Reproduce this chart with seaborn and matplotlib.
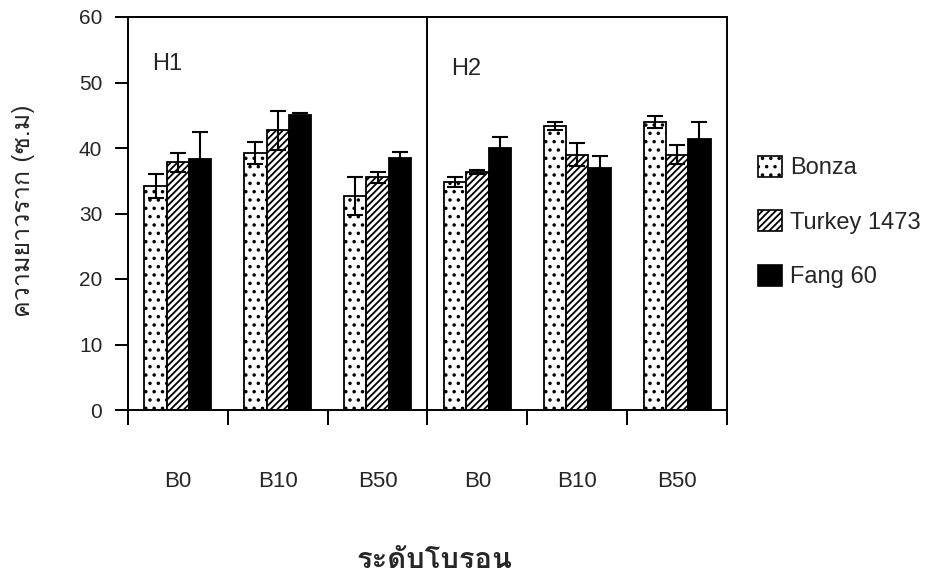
import numpy as np
import pandas as pd
import matplotlib
matplotlib.use("Agg")
import matplotlib.pyplot as plt
import seaborn as sns
from matplotlib import font_manager
from matplotlib.ft2font import FT2Font
from matplotlib.patches import Patch
from matplotlib.ticker import FixedLocator

# ---------------- data ----------------
groups = ["H1-B0", "H1-B10", "H1-B50", "H2-B0", "H2-B10", "H2-B50"]
tick_labels = ["B0", "B10", "B50", "B0", "B10", "B50"]
varieties = ["Bonza", "Turkey 1473", "Fang 60"]
bonza = [34.2, 39.2, 32.7, 34.8, 43.4, 44.0]
bonza_err = [1.8, 1.7, 2.9, 0.8, 0.6, 0.9]
turkey = [37.8, 42.7, 35.5, 36.3, 39.0, 39.0]
turkey_err = [1.5, 3.0, 0.8, 0.3, 1.7, 1.4]
fang = [38.3, 45.0, 38.4, 40.0, 37.0, 41.4]
fang_err = [4.2, 0.3, 1.0, 1.7, 1.8, 2.5]
panel_labels = ["H1", "H2"]
y_ticks = [0, 10, 20, 30, 40, 50, 60]
ylabel = "ความยาวราก (ซ.ม)"
xlabel = "ระดับโบรอน"

# ---------------- fonts ----------------
def thai_families():
    fams = []
    for f in font_manager.fontManager.ttflist:
        try:
            cm = FT2Font(f.fname).get_charmap()
        except Exception:
            continue
        if 0x0E23 in cm and 0x0E1A in cm and f.name not in fams:
            fams.append(f.name)
    return fams

thai = thai_families()
latin = "Liberation Sans"
thai_list = thai[:1] + [latin, "DejaVu Sans"]

sns.set_theme(style="white")
plt.rcParams["font.family"] = [latin, "DejaVu Sans"]
plt.rcParams["hatch.linewidth"] = 1.3
plt.rcParams["hatch.color"] = "black"

df = pd.DataFrame({
    "group": groups * 3,
    "variety": [varieties[0]] * 6 + [varieties[1]] * 6 + [varieties[2]] * 6,
    "value": bonza + turkey + fang,
    "err": bonza_err + turkey_err + fang_err,
})

fig = plt.figure(figsize=(9.29, 5.74), dpi=100)
ax = fig.add_axes([128 / 929, 1 - 410 / 574, (727 - 128) / 929, (410 - 17) / 574])

fills = ["white", "white", "black"]
hatches = ["..", "/////", None]
sns.barplot(data=df, x="group", y="value", hue="variety", order=groups,
            hue_order=varieties, width=0.67, errorbar=None,
            palette=fills, edgecolor="black", linewidth=1.3, ax=ax,
            legend=False, saturation=1)

errs = [bonza_err, turkey_err, fang_err]
for cont, h, e in zip(ax.containers, hatches, errs):
    xs, ys = [], []
    for bar in cont:
        if h:
            bar.set_hatch(h)
        bar.set_edgecolor("black")
        xs.append(bar.get_x() + bar.get_width() / 2)
        ys.append(bar.get_height())
    ax.errorbar(xs, ys, yerr=e, fmt="none", ecolor="black",
                elinewidth=1.5, capsize=6, capthick=1.5, zorder=5)

ax.set_ylim(0, 60)
ax.set_xlim(-0.5, 5.5)
ax.set_yticks(y_ticks)
ax.set_yticklabels([str(t) for t in y_ticks], fontsize=15)
ax.set_xticks(range(6))
ax.set_xticklabels(tick_labels, fontsize=16)
ax.xaxis.set_minor_locator(FixedLocator([-0.5, 0.5, 1.5, 2.5, 3.5, 4.5, 5.5]))
ax.tick_params(axis="x", which="major", length=0, pad=44)
ax.tick_params(axis="x", which="minor", length=11, width=1.4, color="black", direction="out", bottom=True)
ax.tick_params(axis="y", which="major", length=9.5, width=1.4, color="black", direction="out", left=True, pad=9)

ax.axvline(2.5, color="black", linewidth=1.4)
for sp in ax.spines.values():
    sp.set_visible(True)
    sp.set_color("black")
    sp.set_linewidth(1.4)

ax.text(-0.26, 52.9, panel_labels[0], fontsize=17, ha="left", va="center")
ax.text(2.74, 52.0, panel_labels[1], fontsize=17, ha="left", va="center")

ax.set_ylabel("")
ax.set_xlabel("")
fig.text(24 / 929, 1 - 211 / 574, ylabel, fontsize=18, rotation=90,
         family=thai_list, ha="center", va="center")
fig.text(435 / 929, 1 - 560 / 574, xlabel, fontsize=21, fontweight="bold",
         family=thai_list, ha="center", va="center")

handles = [Patch(facecolor=f, edgecolor="black", hatch=h, linewidth=1.2)
           for f, h in zip(fills, hatches)]
fig.legend(handles, varieties, loc="center left", bbox_to_anchor=(758 / 929, 1 - 222 / 574),
           frameon=False, fontsize=17, labelspacing=1.3, handlelength=1.0,
           handleheight=1.0, handletextpad=0.35, borderpad=0, borderaxespad=0)

fig.savefig("out.png", dpi=100)
